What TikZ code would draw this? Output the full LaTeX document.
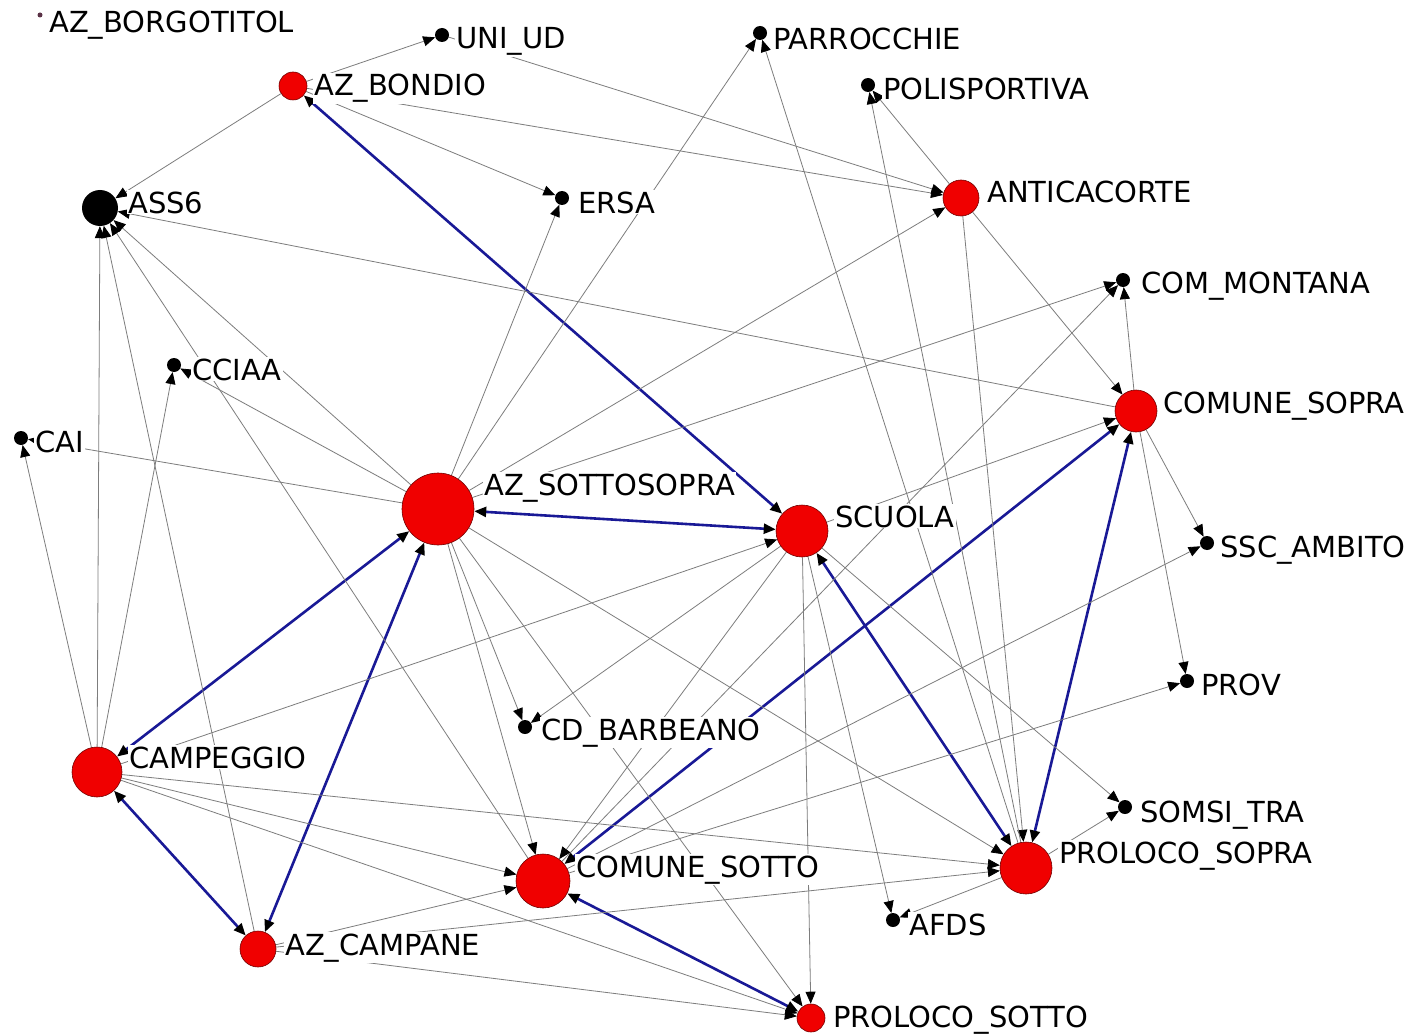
\documentclass[tikz,border=0pt]{standalone}
\usepackage{fontspec}
\setmainfont{DejaVu Sans}
\usetikzlibrary{arrows.meta}
\pgfdeclarelayer{bg}
\pgfsetlayers{bg,main}
\definecolor{edgeblue}{RGB}{25,25,150}
\definecolor{edgegray}{RGB}{125,125,125}
\definecolor{nodered}{RGB}{240,0,0}
\definecolor{isodot}{RGB}{90,50,70}
\begin{document}
\begin{tikzpicture}[x=1pt,y=-1pt,
  dotnode/.style={circle,fill=black,inner sep=0pt,minimum size=14pt},
  rnode/.style={circle,fill=nodered,draw=red!45!black,line width=0.6pt,inner sep=0pt,minimum size=#1},
  lab/.style={anchor=base west,fill=white,inner sep=1pt,font=\fontsize{29}{32}\selectfont},
  tie/.style={draw=edgegray,line width=0.8pt,-{Triangle[length=12pt,width=10pt,color=black]}},
  mutual/.style={draw=edgeblue,line width=2.6pt,{Triangle[length=12pt,width=10pt,color=black]}-{Triangle[length=12pt,width=10pt,color=black]}}]
\path[use as bounding box] (0,0) rectangle (1418,1035);

% nodes
\node[circle,fill=isodot,inner sep=0pt,minimum size=5pt] (borgo) at (40,15) {};
\node[dotnode] (uniud) at (442,35) {};
\node[rnode=28pt] (azbondio) at (293,86) {};
\node[circle,fill=black,inner sep=0pt,minimum size=36pt] (ass) at (100,208) {};
\node[dotnode] (ersa) at (562,198) {};
\node[dotnode] (parr) at (760,33) {};
\node[dotnode] (poli) at (868,85) {};
\node[rnode=36pt] (anti) at (961,198) {};
\node[dotnode] (comm) at (1123,280) {};
\node[rnode=42pt] (csopra) at (1136,411) {};
\node[dotnode] (ssc) at (1207,543) {};
\node[dotnode] (prov) at (1187,681) {};
\node[dotnode] (somsi) at (1125,807) {};
\node[rnode=52pt] (psopra) at (1026,868) {};
\node[dotnode] (afds) at (893,920) {};
\node[rnode=28pt] (psotto) at (811,1018) {};
\node[rnode=54pt] (csotto) at (543,881) {};
\node[dotnode] (cdb) at (525,727) {};
\node[rnode=36pt] (azcamp) at (258,949) {};
\node[rnode=50pt] (campeg) at (97,772) {};
\node[rnode=52pt] (scuola) at (802,531) {};
\node[rnode=72pt] (azss) at (438,509) {};
\node[dotnode] (cciaa) at (174,365) {};
\node[dotnode] (cai) at (21,438) {};

% edges
\begin{pgfonlayer}{bg}
\fill[white] (0,0) rectangle (1418,1035);
\foreach \a/\b in {azbondio/scuola, azss/scuola, campeg/azss, campeg/azcamp,
  azcamp/azss, csotto/csopra, csotto/psotto, scuola/psopra, csopra/psopra}
  \draw[mutual] (\a) -- (\b);
\foreach \a/\b in {azbondio/uniud, azbondio/ass, azbondio/ersa, azbondio/anti,
  uniud/anti,
  azss/cai, azss/cciaa, azss/ass, azss/ersa, azss/parr, azss/anti, azss/comm,
  azss/psopra, azss/cdb, azss/csotto, azss/psotto,
  campeg/ass, campeg/cai, campeg/cciaa, campeg/scuola, campeg/psopra,
  campeg/csotto, campeg/psotto,
  azcamp/ass, azcamp/csotto, azcamp/psopra, azcamp/psotto,
  csotto/ass, csotto/comm, csotto/ssc, csotto/prov,
  csopra/ass, csopra/comm, csopra/ssc, csopra/prov,
  anti/poli, anti/csopra, anti/psopra,
  psopra/parr, psopra/poli, psopra/afds, psopra/somsi,
  scuola/cdb, scuola/csotto, scuola/psotto, scuola/afds, scuola/somsi, scuola/csopra}
  \draw[tie] (\a) -- (\b);
\end{pgfonlayer}

% labels
\node[lab] (lborgo) at (48,33) {AZ\_BORGOTITOL};
\node[lab] (luniud) at (455,49) {UNI\_UD};
\node[lab] (lazbondio) at (313,96) {AZ\_BONDIO};
\node[lab] (lass) at (127,213) {ASS6};
\node[lab] (lersa) at (577,213) {ERSA};
\node[lab] (lparr) at (772,50) {PARROCCHIE};
\node[lab] (lpoli) at (882,100) {POLISPORTIVA};
\node[lab] (lanti) at (986,203) {ANTICACORTE};
\node[lab] (lcomm) at (1140,293) {COM\_MONTANA};
\node[lab] (lcsopra) at (1162,413) {COMUNE\_SOPRA};
\node[lab] (lssc) at (1219,557) {SSC\_AMBITO};
\node[lab] (lprov) at (1200,695) {PROV};
\node[lab] (lsomsi) at (1139,822) {SOMSI\_TRA};
\node[lab] (lpsopra) at (1058,863) {PROLOCO\_SOPRA};
\node[lab] (lafds) at (908,935) {AFDS};
\node[lab] (lpsotto) at (832,1027) {PROLOCO\_SOTTO};
\node[lab] (lcsotto) at (575,877) {COMUNE\_SOTTO};
\node[lab] (lcdb) at (540,740) {CD\_BARBEANO};
\node[lab] (lazcamp) at (284,955) {AZ\_CAMPANE};
\node[lab] (lcampeg) at (128,768) {CAMPEGGIO};
\node[lab] (lscuola) at (834,527) {SCUOLA};
\node[lab] (lazss) at (483,495) {AZ\_SOTTOSOPRA};
\node[lab] (lcciaa) at (191,380) {CCIAA};
\node[lab] (lcai) at (34,452) {CAI};
\end{tikzpicture}
\end{document}
